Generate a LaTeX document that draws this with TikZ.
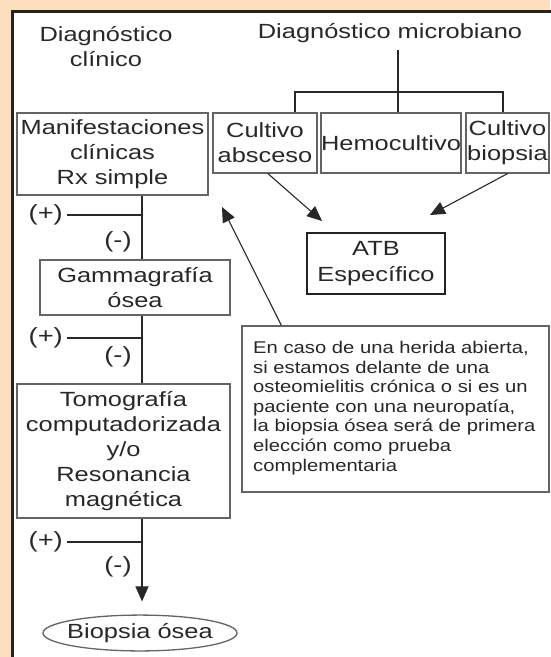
\documentclass[tikz,border=0pt]{standalone}
\usepackage{fontspec}
\setmainfont{Liberation Sans}[FakeStretch=1.24]
\newfontfamily\notefont{Liberation Sans}[FakeStretch=1.19]
\usetikzlibrary{arrows.meta,shapes.geometric}
\definecolor{peach}{RGB}{252,224,190}
\definecolor{ink}{RGB}{40,40,40}
\definecolor{boxline}{RGB}{100,100,100}
\definecolor{frame}{RGB}{35,35,35}
\begin{document}
\begin{tikzpicture}[x=1pt,y=-1pt,
  lbl/.style={text=ink, font=\fontsize{20.5}{25}\selectfont, align=center, inner sep=0pt},
  box/.style={lbl, draw=boxline, line width=1.3pt, rectangle},
  sign/.style={text=ink, font=\fontsize{22}{22}\selectfont, inner sep=0pt},
  conn/.style={draw=ink, line width=1.1pt},
  tip/.style={-{Triangle[length=15pt,width=13pt]}}
]
\useasboundingbox (0,0) rectangle (550,657);
\fill[peach] (0,0) rectangle (550,657);
\fill[white] (12,11) rectangle (550,657);
\draw[frame, line width=3pt] (12,660) -- (12,11) -- (553,11);

% titles
\node[lbl] (dc) at (106,47) {Diagnóstico\\clínico};
\node[lbl] (dm) at (390,33) {Diagnóstico microbiano};

% boxes
\node[box, minimum width=191pt, minimum height=82pt] (mani) at (112.5,154) {Manifestaciones\\clínicas\\Rx simple};
\node[box, minimum width=104pt, minimum height=60pt] (cabs) at (265,143) {Cultivo\\absceso};
\node[box, minimum width=138pt, minimum height=60pt] (hemo) at (391,143) {Hemocultivo};
\node[box, minimum width=83pt, minimum height=60pt] (cbio) at (507.5,143) {Cultivo\\biopsia};
\node[box, draw=frame, line width=2.2pt, minimum width=138pt, minimum height=61pt,
      font=\fontsize{20.5}{26}\selectfont] (atb) at (376,263.5) {ATB\\Específico};
\node[draw=boxline, line width=1.3pt, minimum width=307pt, minimum height=166pt, inner sep=0pt] (note) at (395.5,409) {};
\node[text=ink, font=\notefont\fontsize{17}{19.6}\selectfont, align=left, anchor=north west, inner sep=0pt] (notetxt) at (253,341)
  {En caso de una herida abierta,\\si estamos delante de una\\osteomielitis crónica o si es un\\paciente con una neuropatía,\\la biopsia ósea será de primera\\elección como prueba\\complementaria};
\node[box, minimum width=190pt, minimum height=55pt] (gam) at (135,287.5) {Gammagrafía\\ósea};
\node[box, minimum width=213pt, minimum height=134pt] (tomo) at (123.5,451) {Tomografía\\computadorizada\\y/o\\Resonancia\\magnética};
\node[lbl, draw=boxline, line width=1.3pt, ellipse, inner xsep=-12pt, inner ysep=3pt, minimum width=194pt, minimum height=32pt] (bio) at (140,633) {Biopsia ósea};

% microbial bracket
\coordinate (mtop) at (398,50);
\coordinate (bl) at (295,92);
\coordinate (br) at (503,92);
\draw[conn] (mtop) -- (hemo.north -| mtop);
\draw[conn] (cabs.north -| bl) -- (bl) -- (br) -- (cbio.north -| br);

% arrows to ATB and from note
\coordinate (ta) at (322,221);
\coordinate (tb) at (430,215);
\coordinate (tc) at (222,207);
\draw[conn,tip] ([xshift=3pt]cabs.south) -- (ta);
\draw[conn,tip] (cbio.south) -- (tb);
\draw[conn,tip] ([xshift=40pt]note.north west) -- (tc);

% main column
\coordinate (v) at (142,0);
\draw[conn] (mani.south -| v) -- (gam.north -| v);
\draw[conn] (gam.south -| v) -- (tomo.north -| v);
\draw[conn,tip,shorten >=13pt] (tomo.south -| v) -- (bio.north -| v);

% branches
\coordinate (p1) at (142,215);
\coordinate (p2) at (142,338);
\coordinate (p3) at (142,542);
\node[sign, anchor=east] (plus1) at (63,215) {(+)};
\node[sign, anchor=east] (plus2) at (63,338) {(+)};
\node[sign, anchor=east] (plus3) at (63,542) {(+)};
\draw[conn] ([xshift=4pt]plus1.east) -- (p1);
\draw[conn] ([xshift=4pt]plus2.east) -- (p2);
\draw[conn] ([xshift=4pt]plus3.east) -- (p3);
\node[sign] (m1) at (118,242) {(-)};
\node[sign] (m2) at (118,357) {(-)};
\node[sign] (m3) at (118,567) {(-)};
\end{tikzpicture}
\end{document}
